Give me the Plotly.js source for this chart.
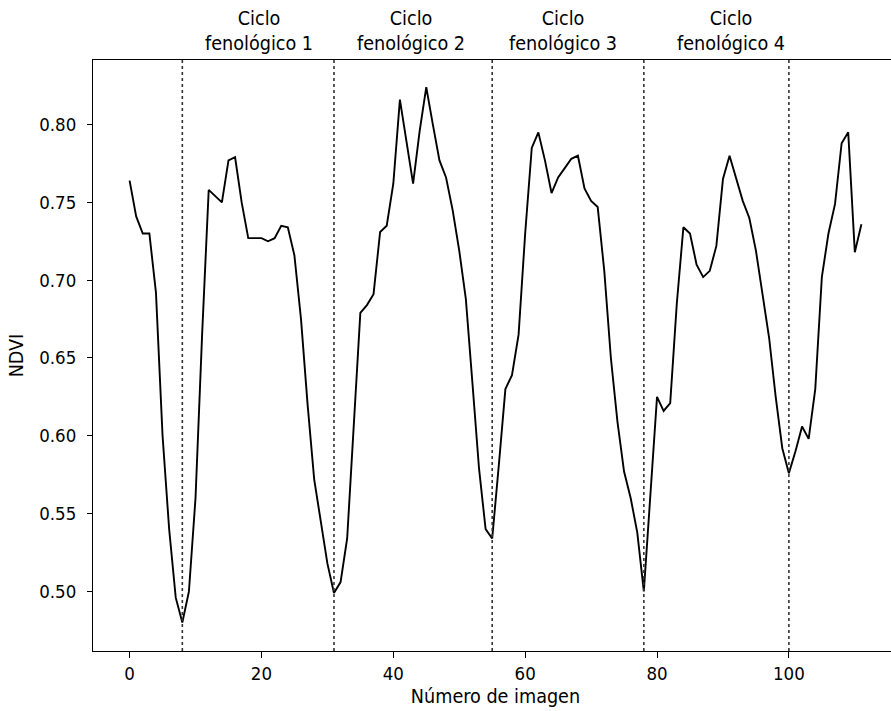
<!DOCTYPE html>
<html>
<head>
<meta charset="utf-8">
<script src="https://cdn.plot.ly/plotly-3.0.1.min.js"></script>
<style>
html,body{margin:0;padding:0;overflow:hidden;background:#fff;}
#chart{width:920px;height:711px;}
</style>
</head>
<body>
<div id="chart"></div>
<script>
// NDVI per image number (0..111)
const ndvi = [
  0.764, 0.741, 0.730, 0.730, 0.692, 0.600, 0.540, 0.496, 0.480, 0.500,
  0.560, 0.665, 0.758, 0.754, 0.750, 0.777, 0.779, 0.750, 0.727, 0.727,
  0.727, 0.725, 0.727, 0.735, 0.734, 0.716, 0.675, 0.620, 0.572, 0.545,
  0.518, 0.499, 0.506, 0.534, 0.606, 0.679, 0.684, 0.691, 0.731, 0.735,
  0.762, 0.816, 0.789, 0.762, 0.796, 0.824, 0.800, 0.777, 0.766, 0.745,
  0.719, 0.688, 0.634, 0.579, 0.540, 0.534, 0.581, 0.630, 0.639, 0.665,
  0.730, 0.785, 0.795, 0.777, 0.756, 0.766, 0.772, 0.778, 0.780, 0.759,
  0.751, 0.747, 0.706, 0.650, 0.609, 0.577, 0.560, 0.538, 0.500, 0.566,
  0.625, 0.616, 0.621, 0.685, 0.734, 0.730, 0.710, 0.702, 0.706, 0.722,
  0.765, 0.780, 0.765, 0.751, 0.740, 0.719, 0.691, 0.663, 0.625, 0.592,
  0.576, 0.590, 0.606, 0.598, 0.630, 0.702, 0.730, 0.749, 0.788, 0.795,
  0.718, 0.736
];
const imageNumber = ndvi.map((_, i) => i);

// Phenological cycle boundaries (image numbers)
const cycleBounds = [8, 31, 55, 78, 100];
// Cycle labels and their centre (image number)
const cycleLabels = ["Ciclo<br>fenológico 1", "Ciclo<br>fenológico 2", "Ciclo<br>fenológico 3", "Ciclo<br>fenológico 4"];
const cycleLabelX = [19.6, 42.7, 65.7, 91.2];

const xTicks = [0, 20, 40, 60, 80, 100];
const yTicks = [0.50, 0.55, 0.60, 0.65, 0.70, 0.75, 0.80];

const FAM = "DejaVu Sans Condensed, DejaVu Sans, sans-serif";
const tickFont = {family: FAM, size: 18.5, color: "#000"};
const labFont = {family: FAM, size: 19.6, color: "#000"};

const trace = {
  x: imageNumber,
  y: ndvi,
  type: "scatter",
  mode: "lines",
  line: {color: "#000", width: 1.9},
  hoverinfo: "skip"
};

const shapes = cycleBounds.map(b => ({
  type: "line", xref: "x", yref: "paper",
  x0: b, x1: b, y0: 0, y1: 1,
  line: {color: "#333", width: 1.6, dash: "dot"}
}));

const annotations = cycleLabels.map((t, i) => ({
  text: t, x: cycleLabelX[i], xref: "x", y: 1, yref: "paper",
  yanchor: "middle", xanchor: "center", yshift: 29, showarrow: false,
  align: "center", font: labFont
}));

const layout = {
  width: 920, height: 711,
  margin: {l: 92.7, r: 21.5, t: 60, b: 60},
  paper_bgcolor: "#fff", plot_bgcolor: "#fff",
  showlegend: false,
  font: tickFont,
  xaxis: {
    range: [-5.55, 116.55],
    tickvals: xTicks, ticktext: xTicks.map(String),
    ticks: "outside", ticklen: 6, tickwidth: 1, tickcolor: "#000",
    ticklabelstandoff: 0,
    showgrid: false, zeroline: false,
    showline: true, linecolor: "#000", linewidth: 1, mirror: true,
    title: {text: "Número de imagen", font: labFont, standoff: 6},
    tickfont: tickFont
  },
  yaxis: {
    range: [0.4617, 0.8415],
    tickvals: yTicks, ticktext: yTicks.map(v => v.toFixed(2)),
    ticks: "outside", ticklen: 5, tickwidth: 1, tickcolor: "#000",
    ticklabelstandoff: 7,
    showgrid: false, zeroline: false,
    showline: true, linecolor: "#000", linewidth: 1, mirror: true,
    title: {text: "NDVI", font: labFont, standoff: 10},
    tickfont: tickFont
  },
  shapes: shapes,
  annotations: annotations
};

Plotly.newPlot("chart", [trace], layout, {staticPlot: true, displayModeBar: false});
</script>
</body>
</html>
